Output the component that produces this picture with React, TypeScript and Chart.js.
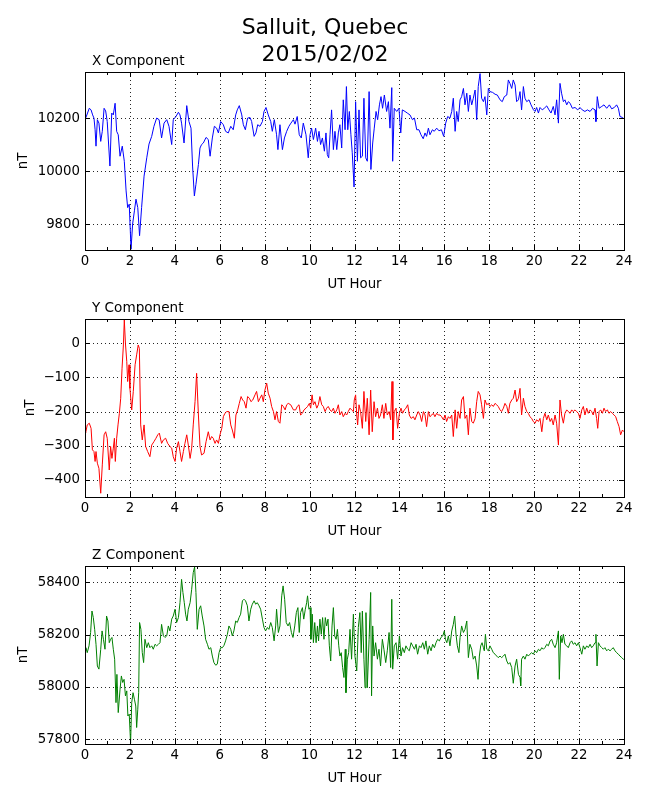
import { useEffect, useRef } from "react"
import { Chart, registerables, type ChartConfiguration, type Plugin } from "chart.js"

Chart.register(...registerables)

const figureTitle = ["Salluit, Quebec", "2015/02/02"]
const hourTicks = [0, 2, 4, 6, 8, 10, 12, 14, 16, 18, 20, 22, 24]
const hourMinorTicks = [1, 3, 5, 7, 9, 11, 13, 15, 17, 19, 21, 23]
const xTicks = [9800, 10000, 10200]
const yTicks = [-400, -300, -200, -100, 0]
const zTicks = [57800, 58000, 58200, 58400]

// [UT hour, nT]
const xComponent: [number, number][] = [
	[0, 10200], [0.04, 10202], [0.19, 10237], [0.27, 10231], [0.34, 10212], [0.4, 10200], [0.45, 10156], [0.49, 10094],
	[0.55, 10194], [0.62, 10181], [0.7, 10112], [0.77, 10150], [0.85, 10237], [0.92, 10227], [0.99, 10187], [1.11, 10019],
	[1.19, 10219], [1.26, 10212], [1.34, 10256], [1.41, 10150], [1.48, 10137], [1.56, 10056], [1.66, 10094], [1.75, 10037],
	[1.83, 9925], [1.9, 9862], [1.97, 9875], [2.05, 9705], [2.12, 9800], [2.2, 9850], [2.27, 9894], [2.35, 9862],
	[2.43, 9756], [2.52, 9862], [2.63, 9981], [2.75, 10050], [2.85, 10102], [2.97, 10131], [3.07, 10169], [3.19, 10200],
	[3.3, 10194], [3.41, 10125], [3.52, 10181], [3.64, 10194], [3.74, 10169], [3.86, 10100], [3.93, 10194], [4.05, 10206],
	[4.16, 10222], [4.23, 10212], [4.3, 10181], [4.41, 10106], [4.53, 10247], [4.63, 10187], [4.72, 10162], [4.79, 10019],
	[4.87, 9906], [4.94, 9950], [5.05, 10025], [5.12, 10087], [5.19, 10100], [5.27, 10106], [5.39, 10127], [5.49, 10119],
	[5.57, 10056], [5.67, 10125], [5.76, 10169], [5.86, 10162], [5.94, 10144], [6.04, 10187], [6.16, 10175], [6.26, 10150],
	[6.38, 10144], [6.49, 10169], [6.6, 10156], [6.71, 10212], [6.78, 10231], [6.87, 10247], [6.98, 10212], [7.05, 10175],
	[7.14, 10156], [7.24, 10200], [7.35, 10202], [7.42, 10187], [7.53, 10131], [7.61, 10144], [7.69, 10175], [7.79, 10169],
	[7.9, 10187], [7.97, 10225], [8.06, 10240], [8.16, 10212], [8.27, 10187], [8.34, 10150], [8.43, 10194], [8.53, 10137],
	[8.59, 10081], [8.68, 10175], [8.79, 10081], [8.88, 10125], [8.98, 10150], [9.08, 10169], [9.17, 10181], [9.28, 10194],
	[9.35, 10177], [9.45, 10206], [9.54, 10137], [9.63, 10125], [9.72, 10181], [9.84, 10137], [9.94, 10050], [10.02, 10137],
	[10.09, 10162], [10.17, 10119], [10.27, 10162], [10.35, 10112], [10.42, 10150], [10.49, 10100], [10.57, 10125], [10.66, 10075],
	[10.73, 10144], [10.79, 10062], [10.85, 10050], [10.91, 10137], [10.98, 10231], [11.06, 10081], [11.13, 10150], [11.21, 10081],
	[11.28, 10144], [11.35, 10175], [11.43, 10087], [11.5, 10269], [11.58, 10156], [11.64, 10319], [11.7, 10156], [11.77, 10225],
	[11.84, 10137], [11.9, 10069], [11.98, 9940], [12.05, 10262], [12.13, 10037], [12.2, 10231], [12.27, 10050], [12.35, 10056],
	[12.42, 10275], [12.5, 10050], [12.57, 10037], [12.65, 10300], [12.73, 10006], [12.81, 10106], [12.88, 10162], [12.96, 10225],
	[13.03, 10194], [13.11, 10250], [13.18, 10281], [13.25, 10237], [13.33, 10287], [13.43, 10225], [13.51, 10262], [13.58, 10162],
	[13.66, 10315], [13.7, 10037], [13.77, 10237], [13.88, 10225], [13.98, 10237], [14.06, 10144], [14.13, 10231], [14.25, 10225],
	[14.35, 10219], [14.47, 10212], [14.58, 10194], [14.67, 10200], [14.77, 10156], [14.87, 10156], [14.96, 10137], [15.06, 10122],
	[15.14, 10144], [15.21, 10131], [15.29, 10162], [15.36, 10137], [15.47, 10156], [15.55, 10150], [15.66, 10162], [15.76, 10152],
	[15.87, 10156], [15.97, 10131], [16.06, 10181], [16.15, 10206], [16.25, 10200], [16.33, 10225], [16.4, 10275], [16.48, 10150],
	[16.55, 10225], [16.62, 10187], [16.7, 10269], [16.77, 10281], [16.85, 10312], [16.92, 10250], [17.0, 10294], [17.07, 10225],
	[17.14, 10287], [17.22, 10250], [17.29, 10275], [17.37, 10306], [17.44, 10194], [17.51, 10319], [17.59, 10368], [17.66, 10275],
	[17.74, 10262], [17.81, 10281], [17.89, 10212], [17.96, 10312], [18.03, 10300], [18.15, 10297], [18.26, 10290], [18.36, 10287],
	[18.48, 10269], [18.58, 10262], [18.67, 10281], [18.78, 10287], [18.85, 10344], [18.92, 10331], [19.0, 10312], [19.07, 10344],
	[19.15, 10325], [19.22, 10262], [19.3, 10269], [19.37, 10300], [19.44, 10231], [19.52, 10319], [19.59, 10275], [19.67, 10262],
	[19.77, 10269], [19.86, 10250], [19.97, 10231], [20.04, 10225], [20.11, 10240], [20.19, 10219], [20.26, 10240], [20.36, 10231],
	[20.45, 10237], [20.56, 10246], [20.66, 10231], [20.75, 10219], [20.85, 10244], [20.93, 10212], [21.0, 10269], [21.08, 10181],
	[21.15, 10331], [21.22, 10294], [21.3, 10262], [21.37, 10269], [21.45, 10250], [21.52, 10262], [21.6, 10256], [21.7, 10237],
	[21.82, 10240], [21.94, 10231], [22.04, 10240], [22.14, 10231], [22.26, 10225], [22.37, 10231], [22.49, 10225], [22.6, 10237],
	[22.71, 10231], [22.75, 10187], [22.81, 10281], [22.89, 10237], [23.01, 10244], [23.11, 10250], [23.23, 10237], [23.35, 10250],
	[23.45, 10235], [23.57, 10240], [23.67, 10250], [23.75, 10237], [23.82, 10206], [23.94, 10202], [24.0, 10197],
]

const yComponent: [number, number][] = [
	[0, -262], [0.04, -259], [0.1, -239], [0.19, -234], [0.27, -249], [0.33, -312], [0.4, -317], [0.45, -346],
	[0.49, -317], [0.55, -351], [0.62, -366], [0.7, -439], [0.77, -356], [0.85, -268], [0.92, -259], [0.99, -278],
	[1.08, -371], [1.14, -302], [1.2, -337], [1.26, -307], [1.31, -278], [1.35, -346], [1.41, -278], [1.47, -239],
	[1.53, -205], [1.59, -161], [1.65, -73], [1.71, -5], [1.75, 68], [1.8, 0], [1.86, -54], [1.9, -112],
	[1.96, -63], [2.0, -132], [2.08, -195], [2.15, -141], [2.23, -63], [2.3, -34], [2.37, -5], [2.42, -15],
	[2.48, -239], [2.55, -283], [2.63, -239], [2.7, -302], [2.79, -317], [2.89, -332], [2.97, -298], [3.07, -288],
	[3.16, -278], [3.24, -268], [3.31, -263], [3.41, -293], [3.49, -283], [3.59, -278], [3.68, -293], [3.78, -302],
	[3.86, -307], [3.93, -332], [4.01, -346], [4.08, -307], [4.16, -288], [4.23, -317], [4.3, -346], [4.38, -317],
	[4.45, -293], [4.53, -268], [4.6, -298], [4.68, -337], [4.75, -307], [4.82, -239], [4.9, -171], [4.97, -88],
	[5.05, -210], [5.12, -302], [5.19, -327], [5.3, -322], [5.39, -288], [5.49, -259], [5.57, -283], [5.64, -273],
	[5.71, -278], [5.79, -293], [5.86, -283], [5.94, -293], [6.01, -268], [6.09, -249], [6.16, -215], [6.23, -205],
	[6.31, -200], [6.41, -200], [6.49, -239], [6.56, -254], [6.65, -278], [6.72, -210], [6.8, -195], [6.87, -176],
	[6.95, -156], [7.02, -166], [7.09, -171], [7.17, -190], [7.24, -156], [7.32, -161], [7.39, -171], [7.47, -166],
	[7.57, -151], [7.64, -141], [7.72, -171], [7.79, -161], [7.87, -151], [7.94, -171], [8.01, -137], [8.09, -117],
	[8.16, -146], [8.24, -161], [8.31, -185], [8.39, -200], [8.46, -224], [8.53, -200], [8.61, -229], [8.68, -234],
	[8.76, -180], [8.83, -185], [8.91, -195], [8.98, -180], [9.05, -176], [9.16, -180], [9.28, -195], [9.38, -195],
	[9.45, -185], [9.53, -180], [9.6, -210], [9.68, -205], [9.75, -195], [9.84, -190], [9.91, -185], [9.99, -176],
	[10.05, -190], [10.11, -151], [10.17, -180], [10.24, -171], [10.32, -190], [10.39, -180], [10.46, -156], [10.54, -180],
	[10.61, -185], [10.69, -200], [10.76, -190], [10.83, -185], [10.91, -195], [10.98, -200], [11.06, -190], [11.13, -205],
	[11.21, -195], [11.28, -180], [11.35, -210], [11.43, -200], [11.5, -215], [11.58, -205], [11.65, -210], [11.72, -200],
	[11.8, -190], [11.87, -195], [11.95, -200], [11.99, -166], [12.05, -151], [12.1, -210], [12.14, -239], [12.2, -180],
	[12.27, -200], [12.35, -249], [12.42, -141], [12.5, -229], [12.57, -161], [12.65, -268], [12.72, -137], [12.79, -259],
	[12.87, -171], [12.94, -215], [13.02, -190], [13.09, -220], [13.16, -210], [13.24, -180], [13.31, -220], [13.39, -176],
	[13.46, -210], [13.54, -200], [13.61, -224], [13.67, -112], [13.71, -283], [13.77, -200], [13.85, -190], [13.92, -249],
	[14.0, -205], [14.07, -190], [14.14, -205], [14.22, -195], [14.29, -190], [14.37, -180], [14.44, -210], [14.52, -220],
	[14.62, -215], [14.69, -224], [14.77, -210], [14.84, -200], [14.92, -210], [14.99, -229], [15.07, -200], [15.14, -210],
	[15.21, -244], [15.29, -200], [15.36, -215], [15.44, -210], [15.51, -205], [15.58, -215], [15.66, -205], [15.73, -210],
	[15.81, -210], [15.88, -215], [15.96, -224], [16.03, -210], [16.1, -229], [16.18, -215], [16.25, -220], [16.33, -210],
	[16.4, -273], [16.48, -195], [16.55, -249], [16.62, -200], [16.7, -220], [16.77, -166], [16.85, -156], [16.92, -220],
	[17.0, -210], [17.07, -268], [17.14, -190], [17.22, -229], [17.29, -234], [17.37, -220], [17.44, -171], [17.51, -141],
	[17.59, -151], [17.66, -180], [17.74, -220], [17.81, -166], [17.89, -180], [17.96, -176], [18.03, -185], [18.11, -180],
	[18.18, -185], [18.26, -176], [18.33, -180], [18.4, -185], [18.48, -195], [18.55, -200], [18.63, -190], [18.7, -176],
	[18.78, -185], [18.85, -205], [18.92, -176], [19.0, -166], [19.07, -161], [19.15, -137], [19.22, -171], [19.3, -161],
	[19.37, -132], [19.44, -210], [19.52, -161], [19.59, -185], [19.67, -200], [19.74, -205], [19.81, -215], [19.89, -220],
	[19.96, -229], [20.04, -234], [20.11, -224], [20.19, -229], [20.26, -220], [20.34, -259], [20.41, -220], [20.48, -205],
	[20.56, -224], [20.63, -210], [20.71, -229], [20.78, -220], [20.85, -239], [20.93, -210], [21.0, -234], [21.08, -298],
	[21.15, -166], [21.22, -210], [21.3, -234], [21.37, -205], [21.45, -195], [21.52, -200], [21.6, -205], [21.67, -195],
	[21.74, -200], [21.82, -195], [21.89, -200], [21.97, -205], [22.04, -220], [22.12, -195], [22.19, -185], [22.26, -210],
	[22.34, -190], [22.41, -205], [22.49, -195], [22.56, -200], [22.63, -210], [22.71, -190], [22.78, -220], [22.83, -249],
	[22.89, -200], [22.96, -195], [23.04, -205], [23.11, -190], [23.18, -200], [23.26, -195], [23.33, -205], [23.41, -200],
	[23.48, -205], [23.56, -210], [23.63, -215], [23.7, -229], [23.78, -244], [23.85, -268], [23.93, -254], [24.0, -259],
]

const zComponent: [number, number][] = [
	[0, 58140], [0.04, 58150], [0.1, 58131], [0.18, 58157], [0.25, 58208], [0.31, 58290], [0.37, 58265], [0.43, 58220],
	[0.49, 58163], [0.55, 58080], [0.62, 58068], [0.7, 58144], [0.76, 58214], [0.82, 58182], [0.89, 58144], [0.96, 58271],
	[1.02, 58252], [1.08, 58169], [1.14, 58182], [1.2, 58189], [1.26, 58144], [1.32, 58106], [1.38, 57940], [1.42, 58048],
	[1.48, 57902], [1.56, 57991], [1.62, 58042], [1.68, 58017], [1.74, 58029], [1.8, 57966], [1.86, 57985], [1.91, 57889],
	[1.97, 57896], [2.03, 57785], [2.08, 57940], [2.14, 57978], [2.2, 57953], [2.26, 57927], [2.3, 57845], [2.35, 57915],
	[2.39, 57978], [2.43, 58246], [2.49, 58220], [2.55, 58131], [2.61, 58093], [2.67, 58182], [2.75, 58150], [2.82, 58169],
	[2.89, 58150], [2.97, 58157], [3.04, 58144], [3.12, 58163], [3.19, 58157], [3.27, 58163], [3.34, 58169], [3.41, 58239],
	[3.49, 58195], [3.56, 58189], [3.64, 58195], [3.71, 58233], [3.78, 58214], [3.86, 58259], [3.93, 58271], [4.01, 58297],
	[4.08, 58246], [4.16, 58265], [4.23, 58322], [4.3, 58411], [4.36, 58361], [4.42, 58322], [4.48, 58278], [4.54, 58252],
	[4.6, 58297], [4.68, 58322], [4.75, 58373], [4.82, 58437], [4.88, 58458], [4.94, 58361], [5.0, 58220], [5.08, 58297],
	[5.15, 58310], [5.22, 58271], [5.3, 58233], [5.37, 58182], [5.45, 58163], [5.52, 58144], [5.6, 58150], [5.67, 58118],
	[5.74, 58093], [5.82, 58083], [5.89, 58087], [5.97, 58131], [6.04, 58150], [6.12, 58150], [6.19, 58159], [6.26, 58176],
	[6.34, 58201], [6.41, 58233], [6.49, 58220], [6.56, 58195], [6.63, 58214], [6.71, 58252], [6.78, 58246], [6.86, 58265],
	[6.93, 58278], [7.01, 58329], [7.08, 58335], [7.15, 58329], [7.23, 58310], [7.3, 58252], [7.38, 58297], [7.45, 58316],
	[7.53, 58329], [7.6, 58316], [7.67, 58322], [7.75, 58310], [7.82, 58297], [7.9, 58259], [7.97, 58227], [8.04, 58214],
	[8.12, 58227], [8.19, 58220], [8.27, 58246], [8.34, 58227], [8.42, 58176], [8.49, 58233], [8.53, 58297], [8.61, 58208],
	[8.68, 58233], [8.76, 58348], [8.82, 58386], [8.89, 58335], [8.96, 58246], [9.04, 58233], [9.11, 58246], [9.19, 58208],
	[9.26, 58189], [9.34, 58233], [9.41, 58284], [9.48, 58303], [9.54, 58208], [9.6, 58284], [9.68, 58303], [9.74, 58259],
	[9.81, 58297], [9.87, 58322], [9.91, 58348], [9.97, 58297], [10.02, 58303], [10.06, 58182], [10.12, 58278], [10.17, 58169],
	[10.23, 58246], [10.29, 58169], [10.35, 58233], [10.4, 58176], [10.46, 58259], [10.52, 58201], [10.58, 58265], [10.64, 58182],
	[10.7, 58265], [10.76, 58233], [10.82, 58259], [10.88, 58157], [10.94, 58099], [11.0, 58233], [11.06, 58303], [11.12, 58195],
	[11.18, 58182], [11.24, 58220], [11.3, 58157], [11.35, 58118], [11.41, 58131], [11.47, 58074], [11.53, 58036], [11.59, 58144],
	[11.62, 57978], [11.68, 58106], [11.74, 58131], [11.8, 58220], [11.87, 58106], [11.95, 58278], [12.02, 58118], [12.1, 58061],
	[12.17, 58227], [12.24, 58284], [12.3, 58131], [12.35, 58290], [12.42, 58106], [12.47, 57997], [12.51, 58284], [12.57, 57997],
	[12.65, 58182], [12.72, 58361], [12.76, 57966], [12.81, 58233], [12.87, 58118], [12.94, 58169], [13.02, 58106], [13.09, 58144],
	[13.16, 58080], [13.24, 58182], [13.31, 58144], [13.39, 58093], [13.46, 58138], [13.54, 58208], [13.61, 58074], [13.66, 58335],
	[13.7, 58068], [13.77, 58157], [13.85, 58169], [13.92, 58106], [14.0, 58195], [14.07, 58118], [14.14, 58150], [14.22, 58131],
	[14.29, 58157], [14.37, 58144], [14.44, 58138], [14.52, 58169], [14.59, 58157], [14.67, 58144], [14.74, 58163], [14.81, 58125],
	[14.89, 58157], [14.96, 58150], [15.04, 58169], [15.11, 58144], [15.18, 58176], [15.26, 58125], [15.33, 58157], [15.41, 58138],
	[15.48, 58163], [15.56, 58150], [15.63, 58169], [15.7, 58182], [15.78, 58176], [15.85, 58189], [15.93, 58195], [16.0, 58214],
	[16.05, 58182], [16.11, 58169], [16.18, 58195], [16.25, 58157], [16.33, 58214], [16.4, 58239], [16.46, 58271], [16.52, 58201],
	[16.58, 58157], [16.65, 58131], [16.7, 58189], [16.77, 58233], [16.85, 58208], [16.92, 58220], [17.0, 58252], [17.07, 58112],
	[17.14, 58163], [17.22, 58144], [17.29, 58106], [17.37, 58118], [17.44, 58080], [17.5, 58029], [17.56, 58118], [17.62, 58157],
	[17.68, 58169], [17.74, 58150], [17.78, 58138], [17.83, 58201], [17.89, 58144], [17.96, 58138], [18.03, 58157], [18.11, 58144],
	[18.18, 58131], [18.26, 58125], [18.33, 58118], [18.4, 58112], [18.48, 58118], [18.55, 58112], [18.63, 58118], [18.7, 58125],
	[18.78, 58099], [18.85, 58087], [18.92, 58093], [19.0, 58074], [19.07, 58014], [19.15, 58080], [19.22, 58106], [19.3, 58048],
	[19.37, 58036], [19.4, 58004], [19.44, 58106], [19.52, 58118], [19.59, 58106], [19.67, 58125], [19.74, 58118], [19.81, 58125],
	[19.89, 58131], [19.96, 58125], [20.04, 58138], [20.11, 58131], [20.19, 58144], [20.26, 58138], [20.34, 58150], [20.41, 58144],
	[20.48, 58150], [20.56, 58163], [20.63, 58157], [20.71, 58176], [20.78, 58182], [20.85, 58163], [20.93, 58150], [21.0, 58169],
	[21.08, 58214], [21.12, 58029], [21.18, 58195], [21.24, 58169], [21.3, 58201], [21.37, 58163], [21.45, 58157], [21.52, 58150],
	[21.6, 58169], [21.67, 58176], [21.74, 58163], [21.82, 58169], [21.89, 58157], [21.97, 58169], [22.04, 58150], [22.12, 58125],
	[22.19, 58157], [22.26, 58144], [22.34, 58157], [22.41, 58150], [22.49, 58163], [22.56, 58150], [22.63, 58157], [22.71, 58169],
	[22.75, 58201], [22.8, 58080], [22.86, 58169], [22.93, 58157], [23.01, 58150], [23.08, 58144], [23.15, 58150], [23.23, 58138],
	[23.3, 58144], [23.38, 58138], [23.45, 58144], [23.52, 58150], [23.6, 58138], [23.67, 58131], [23.75, 58125], [23.82, 58118],
	[23.9, 58112], [23.97, 58106], [24.0, 58104],
]

const FONT = "DejaVu Sans"
const FIG_W = 650
const FIG_H = 800
const PLOT_LEFT = 85
const PLOT_RIGHT = 624
const X_AXIS_H = 43

type Panel = {
	title: string
	data: [number, number][]
	color: string
	ticks: number[]
	min: number
	max: number
	top: number
	bottom: number
	unitPad: number
	mainTitle?: boolean
}

const panels: Panel[] = [
	{ title: "X Component", data: xComponent, color: "#0000ff", ticks: xTicks, min: 9702, max: 10374, top: 72, bottom: 250, unitPad: 16, mainTitle: true },
	{ title: "Y Component", data: yComponent, color: "#ff0000", ticks: yTicks, min: -450, max: 71, top: 319, bottom: 497, unitPad: 23 },
	{ title: "Z Component", data: zComponent, color: "#008000", ticks: zTicks, min: 57782, max: 58462, top: 566, bottom: 744, unitPad: 16 },
]

// matplotlib writes negatives with a real minus sign
const fmt = (v: number) => (v < 0 ? "\u2212" + Math.abs(v) : String(v))

// dotted grid, box frame and inward ticks on all four sides, like the classic matplotlib axes
function axesPlugin(panel: Panel): Plugin<"line"> {
	return {
		id: "mplAxes",
		beforeDatasetsDraw(chart) {
			const { ctx, chartArea: a } = chart
			const sx = chart.scales.x
			const sy = chart.scales.y
			ctx.save()
			ctx.strokeStyle = "rgba(0,0,0,0.85)"
			ctx.lineWidth = 1
			ctx.setLineDash([1, 3])
			ctx.beginPath()
			hourTicks.forEach((h) => {
				const px = Math.round(sx.getPixelForValue(h)) + 0.5
				ctx.moveTo(px, a.top)
				ctx.lineTo(px, a.bottom)
			})
			panel.ticks.forEach((v) => {
				const py = Math.round(sy.getPixelForValue(v)) + 0.5
				ctx.moveTo(a.left, py)
				ctx.lineTo(a.right, py)
			})
			ctx.stroke()
			ctx.restore()
		},
		afterDatasetsDraw(chart) {
			const { ctx, chartArea: a } = chart
			const sx = chart.scales.x
			const sy = chart.scales.y
			ctx.save()
			ctx.strokeStyle = "#000"
			ctx.lineWidth = 1
			ctx.beginPath()
			const tickX = (h: number, len: number) => {
				const px = Math.round(sx.getPixelForValue(h)) + 0.5
				ctx.moveTo(px, a.bottom)
				ctx.lineTo(px, a.bottom - len)
				ctx.moveTo(px, a.top)
				ctx.lineTo(px, a.top + len)
			}
			hourTicks.forEach((h) => tickX(h, 5))
			hourMinorTicks.forEach((h) => tickX(h, 3))
			panel.ticks.forEach((v) => {
				const py = Math.round(sy.getPixelForValue(v)) + 0.5
				ctx.moveTo(a.left, py)
				ctx.lineTo(a.left + 5, py)
				ctx.moveTo(a.right, py)
				ctx.lineTo(a.right - 5, py)
			})
			ctx.stroke()
			ctx.strokeRect(Math.round(a.left) + 0.5, Math.round(a.top) + 0.5, Math.round(a.right - a.left), Math.round(a.bottom - a.top))
			ctx.restore()
		},
		afterDraw(chart) {
			const { ctx, chartArea: a } = chart
			ctx.save()
			ctx.fillStyle = "#000"
			ctx.textBaseline = "alphabetic"
			ctx.textAlign = "left"
			ctx.font = `13.6px "${FONT}"`
			ctx.fillText(panel.title, 92, a.top - 7.5)
			if (panel.mainTitle) {
				ctx.textAlign = "center"
				ctx.font = `22px "${FONT}"`
				ctx.fillText(figureTitle[0], FIG_W / 2, 34)
				ctx.fillText(figureTitle[1], FIG_W / 2, 61)
			}
			ctx.restore()
		},
	}
}

function PanelChart({ panel }: { panel: Panel }) {
	const canvasRef = useRef<HTMLCanvasElement>(null)
	const chartRef = useRef<Chart<"line"> | null>(null)

	useEffect(() => {
		if (!canvasRef.current) return
		if (chartRef.current) chartRef.current.destroy()

		const axisFont = { family: FONT, size: 13.3 }

		const config: ChartConfiguration<"line"> = {
			type: "line",
			data: {
				datasets: [
					{
						data: panel.data.map(([x, y]) => ({ x, y })),
						borderColor: panel.color,
						borderWidth: 1,
						pointRadius: 0,
						tension: 0,
						fill: false,
					},
				],
			},
			options: {
				animation: false,
				responsive: false,
				events: [],
				layout: {
					padding: {
						top: panel.top,
						left: 0,
						right: FIG_W - PLOT_RIGHT,
						bottom: FIG_H - panel.bottom - X_AXIS_H,
					},
				},
				plugins: {
					legend: { display: false },
					tooltip: { enabled: false },
				},
				scales: {
					x: {
						type: "linear",
						min: 0,
						max: 24,
						grid: { display: false, drawTicks: false },
						border: { display: false },
						afterBuildTicks: (scale) => {
							scale.ticks = hourTicks.map((value) => ({ value }))
						},
						afterFit: (scale) => {
							scale.height = X_AXIS_H
						},
						ticks: {
							color: "#000",
							font: axisFont,
							padding: 4,
							maxRotation: 0,
							autoSkip: false,
							callback: (v) => fmt(Number(v)),
						},
						title: { display: true, text: "UT Hour", color: "#000", font: axisFont, padding: 0 },
					},
					y: {
						type: "linear",
						min: panel.min,
						max: panel.max,
						grid: { display: false, drawTicks: false },
						border: { display: false },
						afterBuildTicks: (scale) => {
							scale.ticks = panel.ticks.map((value) => ({ value }))
						},
						afterFit: (scale) => {
							scale.width = PLOT_LEFT
						},
						ticks: {
							color: "#000",
							font: axisFont,
							padding: 5,
							autoSkip: false,
							callback: (v) => fmt(Number(v)),
						},
						title: { display: true, text: "nT", color: "#000", font: axisFont, padding: { top: panel.unitPad, bottom: 0 } },
					},
				},
			},
			plugins: [axesPlugin(panel)],
		}

		chartRef.current = new Chart(canvasRef.current, config)

		return () => {
			if (chartRef.current) {
				chartRef.current.destroy()
				chartRef.current = null
			}
		}
	}, [panel])

	return (
		<canvas
			ref={canvasRef}
			width={FIG_W}
			height={FIG_H}
			style={{ position: "absolute", left: 0, top: 0, width: FIG_W, height: FIG_H }}
		></canvas>
	)
}

export default function App() {
	return (
		<div style={{ position: "absolute", left: 0, top: 0, width: FIG_W, height: FIG_H, background: "#fff" }}>
			{panels.map((p) => (
				<PanelChart key={p.title} panel={p} />
			))}
		</div>
	)
}
